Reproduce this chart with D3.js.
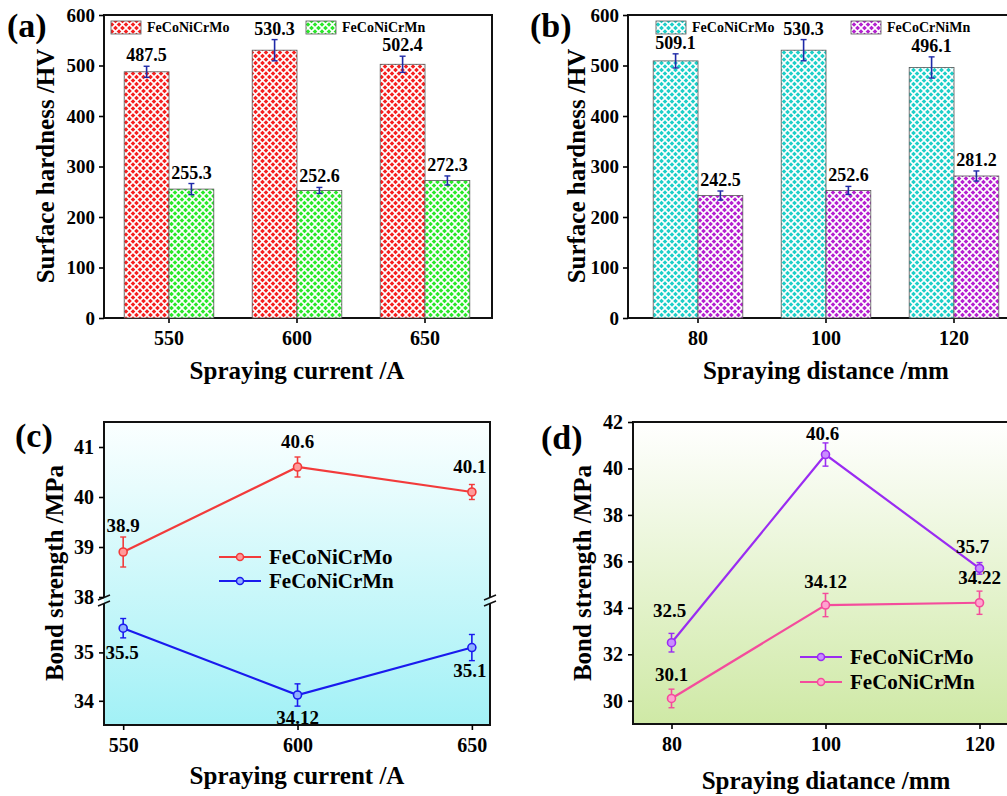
<!DOCTYPE html>
<html>
<head>
<meta charset="utf-8">
<script src="https://cdn.jsdelivr.net/npm/d3@7"></script>
<style>
  body { margin: 0; background: #fff; }
  text { font-family: "Liberation Serif", "Times New Roman", serif; font-weight: bold; fill: #000; }
</style>
</head>
<body>
<script>
// (a) hardness vs spraying current
var currents = ['550', '600', '650'];
var hardMoA = [487.5, 530.3, 502.4];
var hardMoAErr = [11, 21, 16];
var hardMnA = [255.3, 252.6, 272.3];
var hardMnAErr = [11, 6, 9];

// (b) hardness vs spraying distance
var distances = ['80', '100', '120'];
var hardMoB = [509.1, 530.3, 496.1];
var hardMoBErr = [14, 21, 21];
var hardMnB = [242.5, 252.6, 281.2];
var hardMnBErr = [9, 8, 10];

var hardTicks = [0, 100, 200, 300, 400, 500, 600];

// (c) bond strength vs current
var currentNums = [550, 600, 650];
var bondMoC = [38.9, 40.6, 40.1];
var bondMoCErr = [0.3, 0.2, 0.15];
var bondMnC = [35.5, 34.12, 35.1];
var bondMnCErr = [0.2, 0.23, 0.27];
var bondMoCLabels = ['38.9', '40.6', '40.1'];
var bondMnCLabels = ['35.5', '34.12', '35.1'];

// (d) bond strength vs distance
var distanceNums = [80, 100, 120];
var bondMoD = [32.5, 40.6, 35.7];
var bondMoDErr = [0.4, 0.5, 0.25];
var bondMnD = [30.1, 34.12, 34.22];
var bondMnDErr = [0.4, 0.5, 0.5];
var bondMoDLabels = ['32.5', '40.6', '35.7'];
var bondMnDLabels = ['30.1', '34.12', '34.22'];

var W = 1007, H = 796;
var svg = d3.select("body").append("svg")
  .attr("width", W)
  .attr("height", H)
  .attr("font-family", "Liberation Serif, serif")
  .attr("font-weight", "bold");

var defs = svg.append("defs");

// cross hatch patterns for the bars
function hatch(id, color) {
  var p = defs.append("pattern")
    .attr("id", id)
    .attr("patternUnits", "userSpaceOnUse")
    .attr("width", 7)
    .attr("height", 7);
  p.append("rect").attr("width", 7).attr("height", 7).attr("fill", color);
  p.append("path")
    .attr("d", "M0,0 L7,7 M7,0 L0,7")
    .attr("stroke", "#fff")
    .attr("stroke-width", 1.6);
}
hatch("hRed", "#f51f1f");
hatch("hGreen", "#2ae82a");
hatch("hCyan", "#1ccfc8");
hatch("hMag", "#b51fd0");

function grad(id, top, bottom) {
  var g = defs.append("linearGradient")
    .attr("id", id)
    .attr("x1", 0).attr("y1", 0).attr("x2", 0).attr("y2", 1);
  g.append("stop").attr("offset", "0%").attr("stop-color", top);
  g.append("stop").attr("offset", "100%").attr("stop-color", bottom);
}
grad("gCyan", "#fbffff", "#a2f1f6");
grad("gGreen", "#ffffff", "#cfe9a6");

function panelLabel(t, x, y) {
  svg.append("text").attr("x", x).attr("y", y)
    .attr("font-size", 34).text(t);
}

function yTitle(t, x, y) {
  svg.append("text")
    .attr("transform", "translate(" + x + "," + y + ") rotate(-90)")
    .attr("text-anchor", "middle")
    .attr("font-size", 25)
    .text(t);
}

function xTitle(t, x, y) {
  svg.append("text").attr("x", x).attr("y", y)
    .attr("text-anchor", "middle")
    .attr("font-size", 25)
    .text(t);
}

function styleAxis(g, size) {
  g.select(".domain").remove();
  g.selectAll(".tick line").attr("stroke", "#000").attr("stroke-width", 1.6);
  g.selectAll(".tick text")
    .attr("font-size", size)
    .attr("font-family", "Liberation Serif, serif")
    .attr("font-weight", "bold")
    .attr("fill", "#000");
}

function drawBars(o) {
  var x = d3.scaleBand().domain(o.cats).range(o.xr).paddingInner(0.3).paddingOuter(0.15);
  var sub = d3.scaleBand().domain([0, 1]).range([0, x.bandwidth()]);
  var y = d3.scaleLinear().domain([0, 600]).range([318, 15]);

  svg.append("rect")
    .attr("x", o.box[0]).attr("y", 15)
    .attr("width", o.box[1] - o.box[0]).attr("height", 303)
    .attr("fill", "none").attr("stroke", "#111").attr("stroke-width", 2);

  var gy = svg.append("g").attr("transform", "translate(" + o.box[0] + ",0)")
    .call(d3.axisLeft(y).tickValues(hardTicks).tickSize(5).tickPadding(4));
  styleAxis(gy, 19);
  var gx = svg.append("g").attr("transform", "translate(0,318)")
    .call(d3.axisBottom(x).tickSize(5).tickPadding(8));
  styleAxis(gx, 20);

  var series = [
    { vals: o.s1, errs: o.e1, fill: o.f1 },
    { vals: o.s2, errs: o.e2, fill: o.f2 }
  ];
  series.forEach(function(s, k) {
    var g = svg.append("g");
    g.selectAll("rect")
      .data(s.vals)
      .enter()
      .append("rect")
      .attr("x", function(d, i) { return x(o.cats[i]) + sub(k); })
      .attr("y", function(d) { return y(d); })
      .attr("width", sub.bandwidth())
      .attr("height", function(d) { return y(0) - y(d); })
      .attr("fill", "url(#" + s.fill + ")")
      .attr("stroke", "#555")
      .attr("stroke-width", 0.8);

    var cx = function(d, i) { return x(o.cats[i]) + sub(k) + sub.bandwidth() / 2; };
    g.selectAll("line.err")
      .data(s.vals)
      .enter()
      .append("line")
      .attr("x1", cx).attr("x2", cx)
      .attr("y1", function(d, i) { return y(d - s.errs[i]); })
      .attr("y2", function(d, i) { return y(d + s.errs[i]); })
      .attr("stroke", "#1f2aa8").attr("stroke-width", 1.6);
    [-1, 1].forEach(function(sgn) {
      g.selectAll(null)
        .data(s.vals)
        .enter()
        .append("line")
        .attr("x1", function(d, i) { return cx(d, i) - 3; })
        .attr("x2", function(d, i) { return cx(d, i) + 3; })
        .attr("y1", function(d, i) { return y(d + sgn * s.errs[i]); })
        .attr("y2", function(d, i) { return y(d + sgn * s.errs[i]); })
        .attr("stroke", "#1f2aa8").attr("stroke-width", 1.4);
    });
    g.selectAll("text")
      .data(s.vals)
      .enter()
      .append("text")
      .attr("x", cx)
      .attr("y", function(d, i) { return y(d + s.errs[i]) - 5; })
      .attr("text-anchor", "middle")
      .attr("font-size", 18)
      .text(function(d) { return d.toFixed(1); });
  });

  // legend
  o.legend.forEach(function(l) {
    svg.append("rect")
      .attr("x", l.x).attr("y", l.y)
      .attr("width", 30).attr("height", 13)
      .attr("fill", "url(#" + l.fill + ")")
      .attr("stroke", "#555").attr("stroke-width", 0.8);
    svg.append("text")
      .attr("x", l.x + 36).attr("y", l.y + 11)
      .attr("font-size", 14)
      .text(l.name);
  });
}

drawBars({
  cats: currents, xr: [105, 489], box: [104, 492],
  s1: hardMoA, e1: hardMoAErr, f1: "hRed",
  s2: hardMnA, e2: hardMnAErr, f2: "hGreen",
  legend: [{ x: 111, y: 21, fill: "hRed", name: "FeCoNiCrMo" },
           { x: 306, y: 21, fill: "hGreen", name: "FeCoNiCrMn" }]
});
drawBars({
  cats: distances, xr: [634, 1018], box: [628, 1020],
  s1: hardMoB, e1: hardMoBErr, f1: "hCyan",
  s2: hardMnB, e2: hardMnBErr, f2: "hMag",
  legend: [{ x: 656, y: 21, fill: "hCyan", name: "FeCoNiCrMo" },
           { x: 851, y: 21, fill: "hMag", name: "FeCoCrNiMn" }]
});

panelLabel("(a)", 7, 37);
panelLabel("(b)", 530, 37);
yTitle("Surface hardness /HV", 54, 166);
yTitle("Surface hardness /HV", 585, 166);
xTitle("Spraying current /A", 297, 379);
xTitle("Spraying distance /mm", 826, 379);

// line panels
function drawSeries(x, y, xs, vals, errs, labels, color, light, pos) {
  var g = svg.append("g");
  var line = d3.line()
    .x(function(d, i) { return x(xs[i]); })
    .y(function(d) { return y(d); });
  g.append("path")
    .datum(vals)
    .attr("d", line)
    .attr("fill", "none")
    .attr("stroke", color)
    .attr("stroke-width", 2.2);
  vals.forEach(function(v, i) {
    var px = x(xs[i]);
    g.append("line")
      .attr("x1", px).attr("x2", px)
      .attr("y1", y(v - errs[i])).attr("y2", y(v + errs[i]))
      .attr("stroke", color).attr("stroke-width", 1.6);
    [-1, 1].forEach(function(sgn) {
      g.append("line")
        .attr("x1", px - 3).attr("x2", px + 3)
        .attr("y1", y(v + sgn * errs[i])).attr("y2", y(v + sgn * errs[i]))
        .attr("stroke", color).attr("stroke-width", 1.4);
    });
    g.append("circle")
      .attr("cx", px).attr("cy", y(v)).attr("r", 4)
      .attr("fill", light).attr("stroke", color).attr("stroke-width", 1.6);
    g.append("text")
      .attr("x", px + pos[i][0])
      .attr("y", y(v) + pos[i][1])
      .attr("text-anchor", "middle")
      .attr("font-size", 19)
      .text(labels[i]);
  });
}

function legendLine(x, y, color, light, name) {
  svg.append("line")
    .attr("x1", x).attr("x2", x + 42)
    .attr("y1", y).attr("y2", y)
    .attr("stroke", color).attr("stroke-width", 2.2);
  svg.append("circle")
    .attr("cx", x + 21).attr("cy", y).attr("r", 3.5)
    .attr("fill", light).attr("stroke", color).attr("stroke-width", 1.5);
  svg.append("text")
    .attr("x", x + 50).attr("y", y + 7)
    .attr("font-size", 21)
    .text(name);
}

// (c) with broken y axis
var xC = d3.scaleLinear().domain([544.5, 655.2]).range([104, 490]);
var yUp = d3.scaleLinear().domain([38, 41.5]).range([597, 422]);
var yLo = d3.scaleLinear().domain([33.5, 36.0]).range([725, 604]);

svg.append("rect")
  .attr("x", 104).attr("y", 422).attr("width", 386).attr("height", 303)
  .attr("fill", "url(#gCyan)");
var boxC = svg.append("g").attr("stroke", "#111").attr("stroke-width", 2).attr("fill", "none");
boxC.append("path").attr("d", "M104,598 V422 H490 V598");
boxC.append("path").attr("d", "M104,604 V725 H490 V604");
[104, 490].forEach(function(bx) {
  boxC.append("path")
    .attr("stroke-width", 1.5)
    .attr("d", "M" + (bx - 6) + "," + 600 + " L" + (bx + 6) + "," + 595 +
               " M" + (bx - 6) + "," + 606 + " L" + (bx + 6) + "," + 601);
});

var gc1 = svg.append("g").attr("transform", "translate(104,0)")
  .call(d3.axisLeft(yUp).tickValues([38, 39, 40, 41]).tickSize(5).tickPadding(5).tickFormat(d3.format("d")));
styleAxis(gc1, 20);
var gc2 = svg.append("g").attr("transform", "translate(104,0)")
  .call(d3.axisLeft(yLo).tickValues([34, 35]).tickSize(5).tickPadding(5).tickFormat(d3.format("d")));
styleAxis(gc2, 20);
var gc3 = svg.append("g").attr("transform", "translate(0,725)")
  .call(d3.axisBottom(xC).tickValues(currentNums).tickSize(5).tickPadding(8).tickFormat(d3.format("d")));
styleAxis(gc3, 20);

drawSeries(xC, yUp, currentNums, bondMoC, bondMoCErr, bondMoCLabels, "#f23b3b", "#ff9a9a",
  [[0, -20], [0, -19], [-2, -19]]);
drawSeries(xC, yLo, currentNums, bondMnC, bondMnCErr, bondMnCLabels, "#1a1aee", "#8fb0ff",
  [[-1, 31], [0, 29], [-2, 29]]);
legendLine(219, 557, "#f23b3b", "#ff9a9a", "FeCoNiCrMo");
legendLine(219, 581, "#1a1aee", "#8fb0ff", "FeCoNiCrMn");

panelLabel("(c)", 15, 447);
yTitle("Bond strength /MPa", 63, 573);
xTitle("Spraying current /A", 297, 784);

// (d)
var xD = d3.scaleLinear().domain([75, 125]).range([633, 1018]);
var yD = d3.scaleLinear().domain([29, 42]).range([724, 422]);

svg.append("rect")
  .attr("x", 633).attr("y", 422).attr("width", 385).attr("height", 302)
  .attr("fill", "url(#gGreen)")
  .attr("stroke", "#111").attr("stroke-width", 2);

var gd1 = svg.append("g").attr("transform", "translate(633,0)")
  .call(d3.axisLeft(yD).tickValues([30, 32, 34, 36, 38, 40, 42]).tickSize(5).tickPadding(5));
styleAxis(gd1, 20);
var gd2 = svg.append("g").attr("transform", "translate(0,724)")
  .call(d3.axisBottom(xD).tickValues(distanceNums).tickSize(5).tickPadding(8).tickFormat(d3.format("d")));
styleAxis(gd2, 20);

drawSeries(xD, yD, distanceNums, bondMoD, bondMoDErr, bondMoDLabels, "#9a2cf2", "#c98cff",
  [[-2, -26], [-3, -15], [-7, -15]]);
drawSeries(xD, yD, distanceNums, bondMnD, bondMnDErr, bondMnDLabels, "#f44c9c", "#ffa3cf",
  [[0, -17], [0, -17], [0, -19]]);
legendLine(800, 657, "#9a2cf2", "#c98cff", "FeCoNiCrMo");
legendLine(800, 682, "#f44c9c", "#ffa3cf", "FeCoNiCrMn");

panelLabel("(d)", 541, 449);
yTitle("Bond strength /MPa", 591, 573);
xTitle("Spraying diatance /mm", 826, 789);
</script>
</body>
</html>
